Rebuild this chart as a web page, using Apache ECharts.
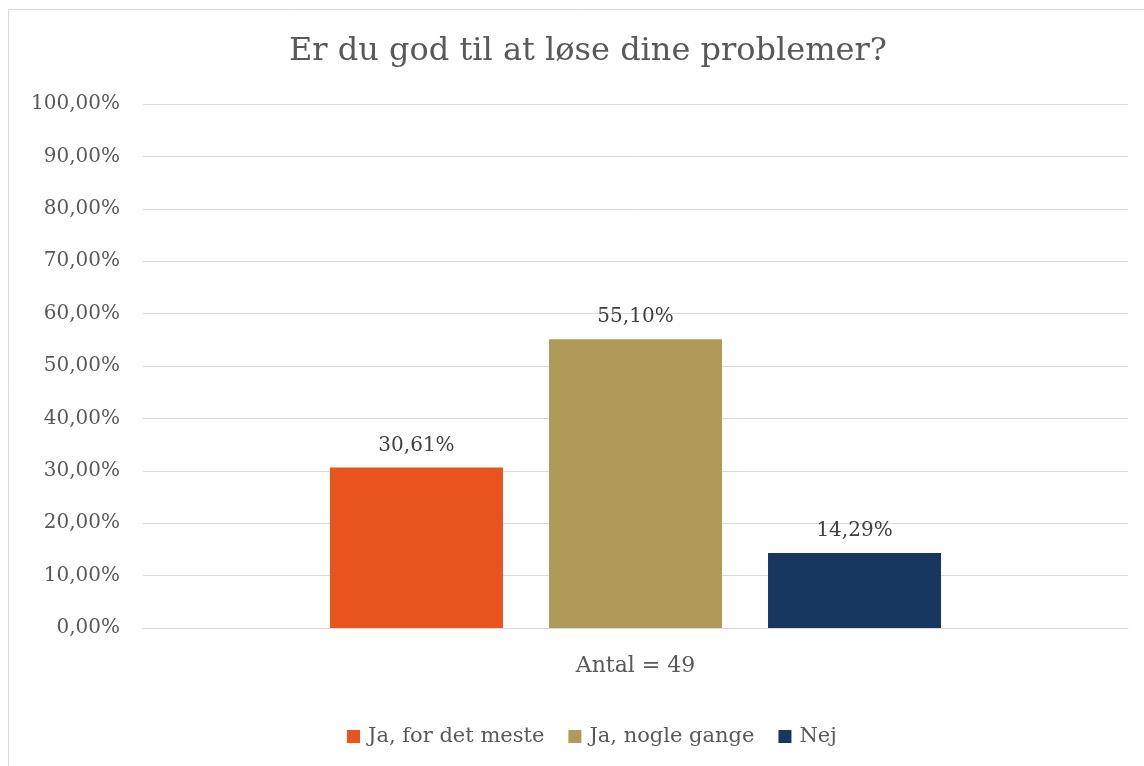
<!DOCTYPE html>
<html>
<head>
<meta charset="utf-8">
<script src="https://cdn.jsdelivr.net/npm/echarts@6/dist/echarts.min.js"></script>
<style>html,body{margin:0;padding:0;background:#fff;}#c{width:1144px;height:766px;}</style>
</head>
<body>
<div id="c"></div>
<script>
var titleText = 'Er du god til at løse dine problemer?';
var categories = ['Antal = 49'];
var seriesNames = ['Ja, for det meste', 'Ja, nogle gange', 'Nej'];
var seriesValues = [[30.61], [55.10], [14.29]];
var seriesColors = ['#E9531D', '#B09A5A', '#173760'];
var yTicks = [0, 10, 20, 30, 40, 50, 60, 70, 80, 90, 100];

var FONT = 'DejaVu Serif';
function pct(v) { return v.toFixed(2).replace('.', ',') + '%'; }

var chart = echarts.init(document.getElementById('c'));
var series = seriesNames.map(function (n, i) {
  return {
    name: n,
    type: 'bar',
    data: seriesValues[i],
    barWidth: 173,
    barGap: '26.6%',
    itemStyle: { color: seriesColors[i] },
    label: {
      show: true, position: 'top', distance: 12,
      formatter: function (p) { return pct(p.value); },
      fontFamily: FONT, fontSize: 20, color: '#404040'
    }
  };
});
chart.setOption({
  animation: false,
  title: {
    text: titleText, left: 583, top: 31, textAlign: 'center',
    textStyle: { fontFamily: FONT, fontSize: 32, fontWeight: 'normal', color: '#595959' }
  },
  legend: {
    data: seriesNames, bottom: 14, left: 342, itemWidth: 13, itemHeight: 13, itemGap: 24,
    icon: 'rect',
    textStyle: { fontFamily: FONT, fontSize: 21, color: '#595959', padding: [0, 0, 0, 3] }
  },
  grid: { left: 143, right: 16, top: 104, bottom: 138, containLabel: false },
  xAxis: {
    type: 'category', data: categories,
    axisLine: { lineStyle: { color: '#d9d9d9', width: 1 } },
    axisTick: { show: false },
    axisLabel: { fontFamily: FONT, fontSize: 22, color: '#595959', margin: 27 }
  },
  yAxis: {
    type: 'value', min: 0, max: 100, interval: 10,
    axisLabel: { fontFamily: FONT, fontSize: 20, color: '#595959', margin: 23,
      formatter: function (v) { return yTicks.indexOf(v) >= 0 ? pct(v) : ''; } },
    splitLine: { lineStyle: { color: '#d9d9d9', width: 1 } },
    axisLine: { show: false }, axisTick: { show: false }
  },
  graphic: [{
    type: 'rect', shape: { x: 8.5, y: 9.5, width: 1200, height: 800 },
    style: { fill: null, stroke: '#d9d9d9', lineWidth: 1 }, silent: true, z: -10
  }],
  series: series
});
</script>
</body>
</html>
